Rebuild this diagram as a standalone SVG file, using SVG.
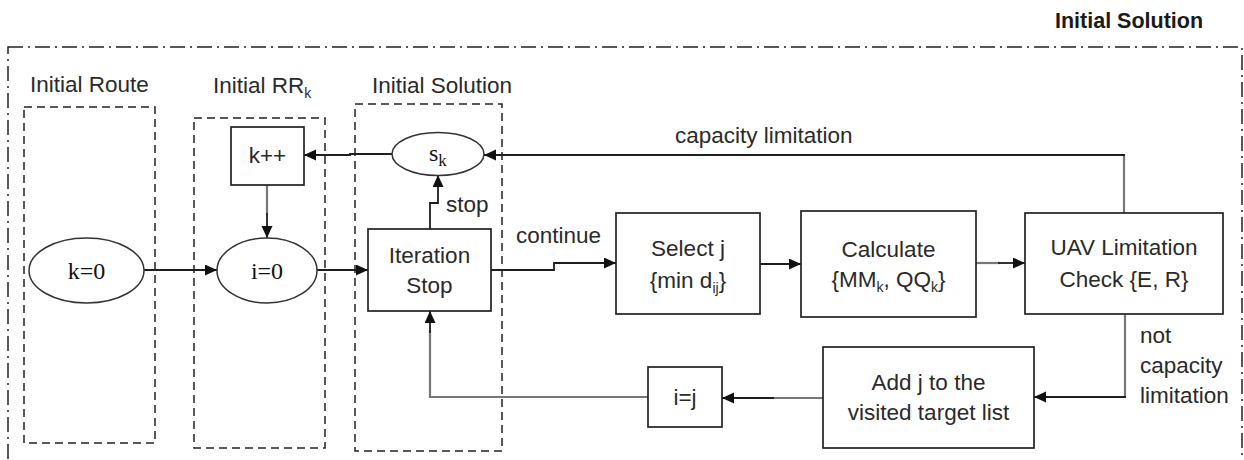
<svg xmlns="http://www.w3.org/2000/svg" width="1244" height="460" viewBox="0 0 1244 460">
  <style>
    .frame { fill: none; stroke: #222; stroke-width: 1.5; stroke-dasharray: 15 5 2 5; }
    .group { fill: none; stroke: #222; stroke-width: 1.5; stroke-dasharray: 8 5; }
    .box { fill: #fff; stroke: #222; stroke-width: 1.7; }
    .oval { fill: #fff; stroke: #333; stroke-width: 1.5; }
    .sans { font-family: "Liberation Sans", Arial, sans-serif; font-size: 22.5px; fill: #2a2a2a; }
    .serif { font-family: "Liberation Serif", "Times New Roman", serif; font-size: 24px; fill: #111; }
    .title { font-family: "Liberation Sans", Arial, sans-serif; font-size: 21.5px; font-weight: bold; fill: #1a1a1a; }
    .mid { text-anchor: middle; }
    .wire { fill: none; stroke: #1e1e1e; stroke-width: 1.8; }
    .wire-grey { fill: none; stroke: #777; stroke-width: 2.2; }
  </style>
  <defs>
    <marker id="arrow" markerUnits="userSpaceOnUse" markerWidth="13" markerHeight="12" refX="12" refY="5.5" orient="auto">
      <path d="M0,0 L12,5.5 L0,11 z" fill="#111"/>
    </marker>
  </defs>

  <rect width="1244" height="460" fill="#fff"/>

  <!-- overall frame and title -->
  <rect class="frame" x="8" y="47" width="1234" height="430"/>
  <text class="title" x="1055" y="28">Initial Solution</text>

  <!-- stage groupings -->
  <g id="stage-route">
    <rect class="group" x="24" y="107" width="131" height="336"/>
    <text class="sans" x="30" y="92">Initial Route</text>
  </g>
  <g id="stage-rr">
    <rect class="group" x="194" y="118" width="131" height="330"/>
    <text class="sans" x="213" y="93">Initial RR<tspan dy="5" font-size="14">k</tspan></text>
  </g>
  <g id="stage-solution">
    <rect class="group" x="355" y="104" width="147" height="347"/>
    <text class="sans" x="372" y="93">Initial Solution</text>
  </g>

  <!-- connectors -->
  <g id="connectors">
    <path class="wire" d="M144,270 H217" marker-end="url(#arrow)"/>
    <path class="wire" d="M317,270 H368" marker-end="url(#arrow)"/>
    <path class="wire" d="M491,270 H554 V263 H616" marker-end="url(#arrow)"/>
    <path class="wire" d="M760,264 H801" marker-end="url(#arrow)"/>
    <path class="wire-grey" d="M976,263 H1000"/>
    <path class="wire" d="M998,263 H1025" marker-end="url(#arrow)"/>
    <path class="wire-grey" d="M1124,213 V155"/>
    <path class="wire" d="M1125,155 H484" marker-end="url(#arrow)"/>
    <path class="wire" d="M392,154 H350 V155 H304" marker-end="url(#arrow)"/>
    <path class="wire-grey" d="M267,185 V215"/>
    <path class="wire" d="M267,213 V238" marker-end="url(#arrow)"/>
    <path class="wire" d="M430,229 V203 H438 V175" marker-end="url(#arrow)"/>
    <path class="wire-grey" d="M1125,314 V397"/>
    <path class="wire" d="M1126,397 H1034" marker-end="url(#arrow)"/>
    <path class="wire-grey" d="M823,398 H772"/>
    <path class="wire" d="M774,398 H722" marker-end="url(#arrow)"/>
    <path class="wire-grey" d="M648,397 H430 V330"/>
    <path class="wire" d="M430,333 V311" marker-end="url(#arrow)"/>

    <text class="sans" x="675" y="143">capacity limitation</text>
    <text class="sans" x="446" y="212">stop</text>
    <text class="sans" x="516" y="243">continue</text>
    <text class="sans" x="1140" y="343">not</text>
    <text class="sans" x="1140" y="373">capacity</text>
    <text class="sans" x="1140" y="403">limitation</text>
  </g>

  <!-- nodes -->
  <g id="node-k0">
    <ellipse class="oval" cx="86.5" cy="270.5" rx="57.5" ry="32.5"/>
    <text class="serif mid" x="86.5" y="279">k=0</text>
  </g>
  <g id="node-i0">
    <ellipse class="oval" cx="267" cy="270.5" rx="50" ry="32.5"/>
    <text class="serif mid" x="267" y="279">i=0</text>
  </g>
  <g id="node-kinc">
    <rect class="box" x="231" y="127" width="73" height="58"/>
    <text class="sans mid" x="267.5" y="163">k++</text>
  </g>
  <g id="node-sk">
    <ellipse class="oval" cx="438" cy="154" rx="46" ry="21.5"/>
    <text class="serif" x="429" y="161">s<tspan dy="5" font-size="17">k</tspan></text>
  </g>
  <g id="node-iteration">
    <rect class="box" x="368" y="229" width="123" height="82"/>
    <text class="sans mid" x="429.5" y="263">Iteration</text>
    <text class="sans mid" x="429.5" y="293">Stop</text>
  </g>
  <g id="node-select">
    <rect class="box" x="616" y="213" width="144" height="101"/>
    <text class="sans mid" x="688" y="256">Select j</text>
    <text class="sans mid" x="688" y="288">{min d<tspan dy="5" font-size="14">ij</tspan><tspan dy="-5">}</tspan></text>
  </g>
  <g id="node-calculate">
    <rect class="box" x="801" y="211" width="175" height="106"/>
    <text class="sans mid" x="888.5" y="257">Calculate</text>
    <text class="sans mid" x="888.5" y="287">{MM<tspan dy="5" font-size="14">k</tspan><tspan dy="-5">, QQ</tspan><tspan dy="5" font-size="14">k</tspan><tspan dy="-5">}</tspan></text>
  </g>
  <g id="node-uav">
    <rect class="box" x="1025" y="213" width="198" height="101"/>
    <text class="sans mid" x="1124" y="255">UAV Limitation</text>
    <text class="sans mid" x="1124" y="287">Check {E, R}</text>
  </g>
  <g id="node-add">
    <rect class="box" x="823" y="347" width="211" height="101"/>
    <text class="sans mid" x="928.5" y="390">Add j to the</text>
    <text class="sans mid" x="928.5" y="420">visited target list</text>
  </g>
  <g id="node-ij">
    <rect class="box" x="648" y="367" width="74" height="60"/>
    <text class="sans mid" x="685" y="405">i=j</text>
  </g>
</svg>
